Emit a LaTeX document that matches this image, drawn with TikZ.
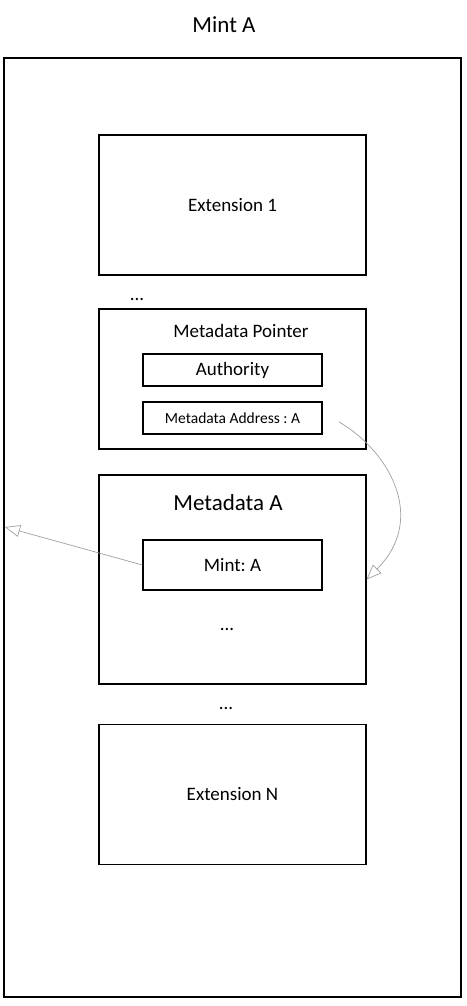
\documentclass[tikz,border=0pt]{standalone}
\usepackage{fontspec}
\setmainfont{Carlito}
\usepackage{tikz}
\usetikzlibrary{arrows.meta, positioning}
\frenchspacing

\begin{document}
\begin{tikzpicture}[
          x=1pt, y=-1pt,
          mintbox/.style={
              draw=black,
              line width=1.1pt,
              minimum width=457pt,
              minimum height=939pt
            },
          extbox/.style={
              draw=black,
              line width=1.1pt,
              minimum width=267pt,
              minimum height=140pt,
              font=\fontsize{19}{22}\selectfont
            },
          fieldbox/.style={
              draw=black,
              line width=1.1pt,
              minimum width=179pt,
              minimum height=32pt,
              font=\fontsize{19}{22}\selectfont
            },
          title/.style={font=\fontsize{23}{26}\selectfont, inner sep=0pt},
          dots/.style={font=\fontsize{19}{22}\selectfont, inner sep=0pt},
          arr/.style={-{Triangle[open, length=15pt, width=12pt]}, gray!75, line width=0.7pt}
        ]
        \useasboundingbox (0,0) rectangle (466,1006);

        \node[title] (mint_title) at (224,25) {Mint A};
        \node[mintbox] (mint) at (232.5,527.5) {};

        \node[extbox] (ext1) at (232.5,205) {Extension 1};
        \node[dots] (dots1) at (137,299) {...};

        % metadata pointer extension
        \node[extbox] (ptr) at (232.5,379) {};
        \node[font=\fontsize{19}{22}\selectfont, inner sep=0pt] (ptr_title) at (241,331) {Metadata Pointer};
        \node[fieldbox] (auth) at (232.5,370) {Authority};
        \node[fieldbox, font=\fontsize{15.5}{18}\selectfont] (addr) at (232.5,418) {Metadata Address : A};

        % metadata extension
        \node[extbox, minimum height=209pt] (meta) at (232.5,579.5) {};
        \node[title] (meta_title) at (228,503) {Metadata A};
        \node[fieldbox, minimum height=50pt] (mint_field) at (232.5,565) {Mint: A};
        \node[dots] (dots2) at (227,629) {...};

        \node[dots] (dots3) at (226,708) {...};
        \node[extbox] (extN) at (232.5,794.5) {Extension N};

        \coordinate (addr_out) at (339,422);
        \coordinate (mint_in) at (5,527);

        \draw[arr] (addr_out) .. controls (388,450) and (428,518) .. (meta.east);
        \draw[arr] (mint_field.west) -- (mint_in);
      \end{tikzpicture}
\end{document}
